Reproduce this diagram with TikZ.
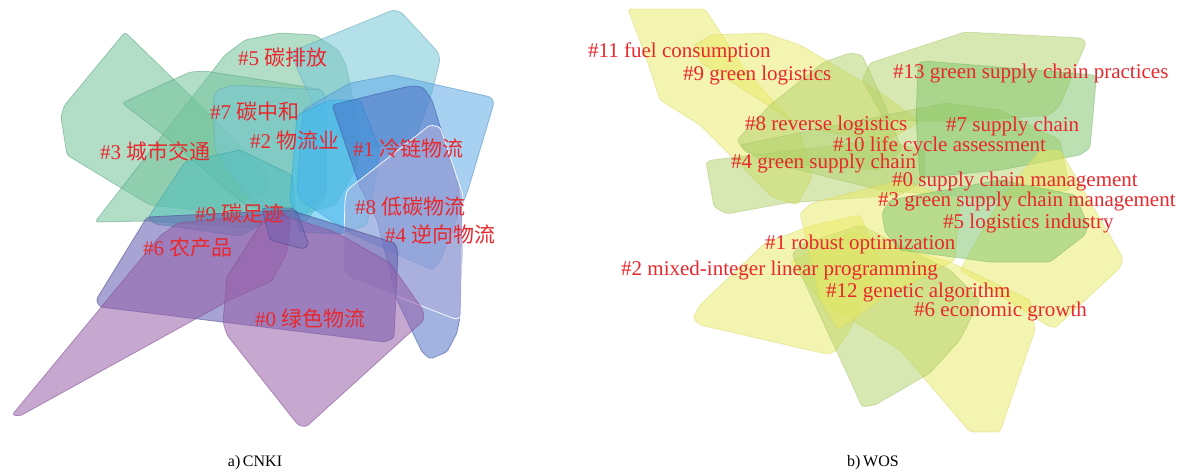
\documentclass[tikz,border=0pt]{standalone}
\usepackage{fontspec}
\setmainfont{Liberation Serif}
\newfontfamily\cjk{Noto Sans CJK SC}
\definecolor{labred}{RGB}{232,40,45}
\definecolor{cgreen}{RGB}{115,195,155}
\definecolor{ccyanl}{RGB}{120,200,215}
\definecolor{ccyanb}{RGB}{60,190,240}
\definecolor{cblue}{RGB}{95,170,230}
\definecolor{cdblue}{RGB}{70,105,195}
\definecolor{clav}{RGB}{175,175,220}
\definecolor{cslate}{RGB}{95,90,175}
\definecolor{cpurp}{RGB}{150,95,170}
\definecolor{cteal}{RGB}{80,190,190}
\definecolor{cyel}{RGB}{235,235,100}
\definecolor{cyg}{RGB}{178,210,105}
\definecolor{cgr}{RGB}{125,195,105}
\tikzset{
  poly/.style={rounded corners=3pt, line width=0.8pt, fill opacity=0.55, draw opacity=0.55},
  pgreen/.style={poly, fill=cgreen, draw=cgreen!85!black},
  pcyanl/.style={poly, fill=ccyanl, draw=ccyanl!85!black},
  pcyanb/.style={poly, fill=ccyanb, draw=ccyanb!85!black},
  pblue/.style={poly, fill=cblue, draw=cblue!85!black},
  pdblue/.style={poly, fill=cdblue, draw=cdblue!85!black, fill opacity=0.5},
  plav/.style={poly, fill=clav, draw=white, fill opacity=0.55, draw opacity=0.9},
  pslate/.style={poly, fill=cslate, draw=cslate!80!black},
  ppurp/.style={poly, fill=cpurp, draw=cpurp!85!black},
  pteal/.style={poly, fill=cteal, draw=cteal!85!black},
  pyel/.style={poly, fill=cyel, draw=cyel!90!black, fill opacity=0.5, draw opacity=0.4},
  pyg/.style={poly, fill=cyg, draw=cyg!90!black, fill opacity=0.5, draw opacity=0.4},
  pgr/.style={poly, fill=cgr, draw=cgr!90!black, fill opacity=0.5, draw opacity=0.4},
  lab/.style={text=labred, font=\fontsize{21}{21}\selectfont, inner sep=0pt, anchor=west},
  captext/.style={text=black, font=\fontsize{16}{16}\selectfont, inner sep=0pt},
}
\begin{document}
\begin{tikzpicture}[x=1pt,y=-1pt]
\useasboundingbox[fill=white] (0,0) rectangle (1187,475);
% ---------- panel a ----------
\draw[pgreen] (125,32) -- (200,105) -- (268,175) -- (266,192) -- (215,212) -- (150,205) -- (118,186) -- (67,155) -- (61,117) -- (64,106) -- cycle;
\draw[pgreen] (95,222) -- (190,100) -- (225,55) -- (245,40) -- (280,33) -- (315,35) -- (338,50) -- (346,65) -- (358,125) -- (358,165) -- (335,205) -- (250,228) -- (148,221) -- cycle;
\draw[pgreen] (122,103) -- (190,72) -- (205,71) -- (320,89) -- (325,97) -- (326,195) -- (305,222) -- (245,205) -- (170,140) -- cycle;
\draw[pcyanl] (290,52) -- (393,10) -- (401,12) -- (438,52) -- (440,60) -- (432,92) -- (415,140) -- (360,150) -- (320,120) -- cycle;
\draw[pcyanl] (217,90) -- (233,85) -- (322,90) -- (326,98) -- (326,187) -- (302,218) -- (268,214) -- (240,188) -- (215,150) -- (213,100) -- cycle;
\draw[pteal] (148,218) -- (185,162) -- (240,150) -- (292,175) -- (295,208) -- (240,236) -- (155,224) -- cycle;
\draw[pblue] (303,110) -- (350,83) -- (393,75) -- (491,97) -- (494,103) -- (468,190) -- (440,262) -- (432,270) -- (350,233) -- (300,200) -- (297,190) -- cycle;
\draw[pcyanb] (297,115) -- (330,100) -- (360,100) -- (380,150) -- (367,225) -- (340,234) -- (300,232) -- (290,200) -- cycle;
\draw[pdblue] (332,105) -- (410,86) -- (423,87) -- (432,100) -- (458,185) -- (463,230) -- (460,317) -- (457,333) -- (447,352) -- (430,359) -- (422,352) -- (397,300) -- (377,220) -- (360,187) -- cycle;
\draw[plav] (430,125) -- (440,127) -- (463,195) -- (461,318) -- (455,319) -- (350,278) -- (343,270) -- (345,200) -- (347,190) -- cycle;
\draw[pslate] (147,217) -- (290,210) -- (395,243) -- (398,252) -- (394,338) -- (385,342) -- (100,307) -- (96,300) -- cycle;
\draw[ppurp] (12,415) -- (160,236) -- (178,223) -- (283,212) -- (291,220) -- (287,253) -- (272,281) -- (230,300) -- (20,416) -- cycle;
\draw[ppurp] (227,277) -- (262,222) -- (282,215) -- (335,232) -- (390,263) -- (423,310) -- (424,320) -- (306,427) -- (298,425) -- (227,335) -- (223,322) -- cycle;
\draw[pslate, fill opacity=0.35] (262,208) -- (293,208) -- (297,212) -- (309,245) -- (303,249) -- (270,240) -- cycle;
% ---------- panel b ----------
\draw[pyel] (628,9) -- (705,9) -- (745,70) -- (800,130) -- (812,178) -- (797,205) -- (772,197) -- (700,125) -- (660,100) -- (647,60) -- cycle;
\draw[pyel] (694,45) -- (712,35) -- (765,33) -- (800,45) -- (880,92) -- (920,122) -- (885,142) -- (800,127) -- (760,100) -- (700,62) -- cycle;
\draw[pyg] (870,63) -- (965,32) -- (1082,38) -- (1086,43) -- (1060,105) -- (1050,115) -- (960,122) -- (885,120) -- (862,80) -- cycle;
\draw[pyg] (737,140) -- (770,105) -- (824,62) -- (850,53) -- (862,55) -- (886,108) -- (902,150) -- (880,170) -- (800,165) -- (745,152) -- cycle;
\draw[pyg] (706,162) -- (712,160) -- (880,140) -- (925,150) -- (925,180) -- (900,195) -- (786,203) -- (727,214) -- (714,207) -- cycle;
\draw[pyg] (740,145) -- (946,103) -- (1000,110) -- (1060,140) -- (1070,190) -- (1000,200) -- (880,190) -- (760,160) -- cycle;
\draw[pgr] (918,63) -- (925,61) -- (1095,75) -- (1096,82) -- (1090,148) -- (1080,155) -- (1000,170) -- (920,178) -- (916,120) -- cycle;
\draw[pyel] (1040,150) -- (1060,150) -- (1123,258) -- (1120,268) -- (1055,328) -- (1048,326) -- (960,270) -- (1000,200) -- cycle;
\draw[pyel] (790,262) -- (850,232) -- (950,262) -- (1030,300) -- (1035,330) -- (1000,432) -- (970,432) -- (900,350) -- (820,300) -- cycle;
\draw[pyel] (693,318) -- (700,305) -- (765,243) -- (813,225) -- (860,215) -- (880,260) -- (850,330) -- (835,352) -- (826,354) -- (700,325) -- cycle;
\draw[pyg] (792,255) -- (800,245) -- (860,225) -- (950,270) -- (980,300) -- (960,340) -- (930,373) -- (875,405) -- (862,407) -- (850,380) -- cycle;
\draw[pyel] (800,213) -- (812,203) -- (900,180) -- (960,200) -- (955,260) -- (880,300) -- (838,330) -- (820,300) -- cycle;
\draw[pgr] (882,213) -- (890,200) -- (1000,180) -- (1075,195) -- (1088,225) -- (1085,235) -- (1050,262) -- (990,262) -- (900,250) -- (885,232) -- cycle;
% ---------- labels a ----------
\node[lab] (a5) at (238,58) {\#5 {\cjk 碳排放}};
\node[lab] (a7) at (210,112) {\#7 {\cjk 碳中和}};
\node[lab] (a2) at (250,141) {\#2 {\cjk 物流业}};
\node[lab] (a3) at (100,151) {\#3 {\cjk 城市交通}};
\node[lab] (a1) at (353,148) {\#1 {\cjk 冷链物流}};
\node[lab] (a8) at (355,207) {\#8 {\cjk 低碳物流}};
\node[lab] (a9) at (195,213) {\#9 {\cjk 碳足迹}};
\node[lab] (a4) at (385,234) {\#4 {\cjk 逆向物流}};
\node[lab] (a6) at (143,248) {\#6 {\cjk 农产品}};
\node[lab] (a0) at (255,318) {\#0 {\cjk 绿色物流}};
% ---------- labels b ----------
\node[lab] (b11) at (588,52) {\#11 fuel consumption};
\node[lab] (b9) at (683,75) {\#9 green logistics};
\node[lab] (b13) at (893,73) {\#13 green supply chain practices};
\node[lab] (b8) at (745,125) {\#8 reverse logistics};
\node[lab] (b7) at (946,126) {\#7 supply chain};
\node[lab] (b10) at (833,146) {\#10 life cycle assessment};
\node[lab] (b4) at (731,163) {\#4 green supply chain};
\node[lab] (b0) at (892,181) {\#0 supply chain management};
\node[lab] (b3) at (878,201) {\#3 green supply chain management};
\node[lab] (b5) at (943,223) {\#5 logistics industry};
\node[lab] (b1) at (765,244) {\#1 robust optimization};
\node[lab] (b2) at (621,270) {\#2 mixed-integer linear programming};
\node[lab] (b12) at (826,292) {\#12 genetic algorithm};
\node[lab] (b6) at (914,311) {\#6 economic growth};
% ---------- captions ----------
\node[captext] (capa) at (255,463) {a)\,CNKI};
\node[captext] (capb) at (873,463) {b)\,WOS};
\end{tikzpicture}
\end{document}
